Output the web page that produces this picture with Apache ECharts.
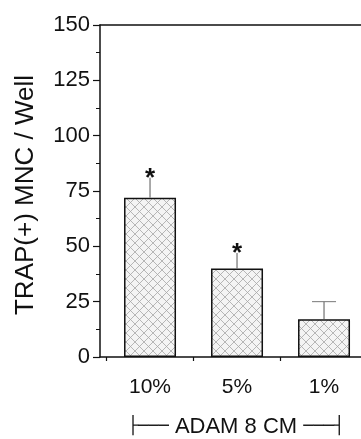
<!DOCTYPE html>
<html><head><meta charset="utf-8">
<script src="https://cdn.jsdelivr.net/npm/echarts@6/dist/echarts.min.js"></script>
<style>html,body{margin:0;padding:0;background:#fff}#c{width:361px;height:439px}</style>
</head><body><div id="c"></div>
<script>
const categories = ['10%', '5%', '1%'];
const means = [72, 40, 17];
const errUpper = [81, 47, 25];
const marks = ['*', '*', ''];
const yTickStep = 25;
const yMax = 150;
const yName = 'TRAP(+) MNC / Well';
const groupLabel = 'ADAM 8 CM';

const EDGE = 0.075;
const centers = categories.map((c, i) => i + EDGE + 0.5);
const edges = categories.map((c, i) => i + EDGE);

const hatch = document.createElement('canvas');
hatch.width = 9; hatch.height = 9;
const g = hatch.getContext('2d');
g.fillStyle = '#f4f4f4'; g.fillRect(0, 0, 9, 9);
g.strokeStyle = '#a6a6a6'; g.lineWidth = 0.8;
g.beginPath(); g.moveTo(0, 0); g.lineTo(9, 9); g.moveTo(9, 0); g.lineTo(0, 9); g.stroke();

const FONT = 'Liberation Sans';
const chart = echarts.init(document.getElementById('c'), null, {renderer: 'canvas'});
chart.setOption({
  backgroundColor: '#fff',
  animation: false,
  grid: {left: 100, right: 0, top: 25, bottom: 82, outerBoundsMode: 'none', containLabel: false},
  xAxis: [{
    type: 'value', min: 0, max: 3, position: 'bottom',
    axisLine: {show: true, lineStyle: {color: '#111', width: 1.5}},
    axisTick: {show: true, customValues: edges, length: 4, lineStyle: {color: '#111', width: 1.2}},
    axisLabel: {show: true, customValues: centers, margin: 20, fontSize: 21, fontFamily: FONT, color: '#111',
      formatter: v => categories[Math.round(v - EDGE - 0.5)] || ''},
    splitLine: {show: false},
    name: '{b|├───} ' + groupLabel + ' {b|───┤}',
    nameLocation: 'middle', nameGap: 59,
    nameTextStyle: {fontSize: 22, fontFamily: FONT, color: '#111', padding: [0, 0, 0, 11],
      rich: {b: {fontFamily: 'DejaVu Sans', fontSize: 17, color: '#111'}}}
  }, {
    type: 'value', min: 0, max: 3, position: 'top',
    axisLine: {show: true, lineStyle: {color: '#111', width: 1.5}},
    axisTick: {show: false}, axisLabel: {show: false}, splitLine: {show: false}
  }],
  yAxis: {
    type: 'value', min: 0, max: yMax, interval: yTickStep,
    axisLine: {show: true, lineStyle: {color: '#111', width: 1.5}},
    axisTick: {show: true, length: 7, lineStyle: {color: '#111', width: 1.2}},
    minorTick: {show: true, splitNumber: 2, length: 4, lineStyle: {color: '#111', width: 1}},
    axisLabel: {fontSize: 22, fontFamily: FONT, color: '#111', margin: 10},
    splitLine: {show: false},
    name: yName, nameLocation: 'middle', nameGap: 61,
    nameTextStyle: {fontSize: 26, fontFamily: FONT, color: '#111', padding: [0, 8, 0, 0]}
  },
  series: [{
    type: 'bar', xAxisIndex: 0,
    data: centers.map((p, i) => [p, means[i]]),
    barWidth: 52,
    itemStyle: {color: {image: hatch, repeat: 'repeat'}, borderColor: '#111', borderWidth: 1.5}
  }, {
    type: 'custom', xAxisIndex: 0,
    data: centers.map((p, i) => [p, means[i], errUpper[i], i]),
    encode: {x: 0, y: [1, 2]},
    renderItem: (params, api) => {
      const x = api.value(0), lo = api.value(1), hi = api.value(2), i = api.value(3);
      const p0 = api.coord([x, lo]), p1 = api.coord([x, hi]);
      const ch = [{type: 'line', shape: {x1: p0[0], y1: p0[1], x2: p1[0], y2: p1[1]}, style: {stroke: '#555', lineWidth: 1}}];
      if (marks[i]) {
        ch.push({type: 'text', style: {text: marks[i], x: p1[0], y: p1[1] + 1, align: 'center', verticalAlign: 'middle',
          font: 'bold 26px "Liberation Sans"', fill: '#111'}});
      } else {
        ch.push({type: 'line', shape: {x1: p1[0] - 12, y1: p1[1], x2: p1[0] + 12, y2: p1[1]}, style: {stroke: '#777', lineWidth: 1}});
      }
      return {type: 'group', children: ch};
    },
    z: 3
  }]
});
</script></body></html>
